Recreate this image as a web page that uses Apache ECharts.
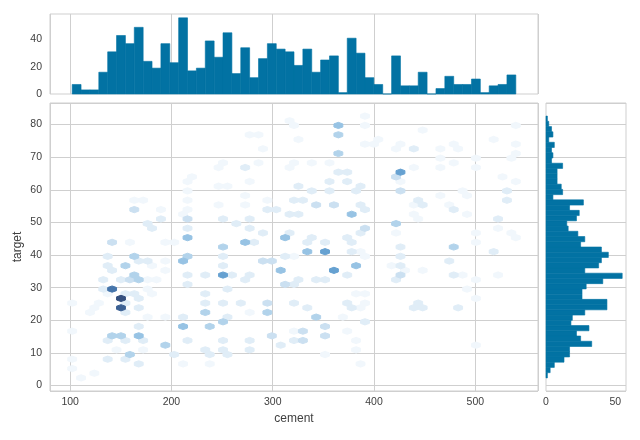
<!DOCTYPE html>
<html>
<head>
<meta charset="utf-8">
<script src="https://cdn.jsdelivr.net/npm/echarts@6/dist/echarts.min.js"></script>
<style>
html, body { margin: 0; padding: 0; background: #fff; }
#chart { width: 640px; height: 440px; }
</style>
</head>
<body>
<div id="chart"></div>
<script>
// marginal histogram counts (50 bins each)
var cementCounts = [7, 3, 3, 16, 31, 43, 37, 49, 24, 19, 37, 23, 56, 17, 19, 39, 27, 45, 15, 34,
  12, 26, 37, 33, 31, 21, 33, 16, 25, 28, 1, 41, 30, 12, 7, 0, 28, 6, 6, 16,
  0, 4, 13, 7, 7, 11, 1, 6, 7, 14];
var targetCounts = [1, 3, 6, 13, 17, 17, 33, 25, 22, 31, 18, 19, 28, 44, 44, 26, 26, 29, 41, 55,
  28, 38, 40, 45, 40, 25, 28, 23, 16, 15, 22, 24, 17, 27, 5, 12, 11, 8, 8, 8,
  12, 4, 5, 4, 6, 2, 5, 4, 2, 1];
var cementRange = [102, 540];
var targetRange = [2.33, 82.6];
var gridSize = 50;

// hexbin cells: [cement, target, count]
var hexCells = [
  [315.7,81.2,1],[277,77.2,1],[285,77.2,1],[290,72.9,1],[323.4,75.7,1],[250.4,68.6,1],[245.6,67.1,1],
  [272.3,67.1,2],[285,68.6,1],[316.4,67.1,1],[321.4,68.3,1],[219.5,64.3,1],[214.6,62.8,1],[276.2,62.8,1],
  [245.6,61.5,1],[254.3,61.5,1],[323.4,61.5,2],[214.6,60,1],[161.5,57.2,1],[171.4,57.2,1],[214.6,57.2,1],
  [272,58.5,1],[293.9,57.2,1],[319.8,57.2,2],[162.6,54.3,3],[188,54.3,1],[214.6,54.3,1],[250.4,55.7,1],
  [272.3,55.7,1],[293.9,54.3,2],[302.8,54.3,2],[314.8,52.9,2],[323.7,52.9,2],[189.3,51.4,2],[214.9,51.4,3],
  [211,52.9,1],[176.5,50,2],[180.5,48.6,2],[214.9,48.6,2],[250.4,51.4,2],[264.3,50,2],[276.2,51.4,2],
  [277,48.6,2],[290,47.1,2],[140.8,44,3],[158.6,44,1],[193,44,1],[201,44,1],[214.9,45.5,5],[250.4,42.8,4],
  [272.3,44,5],[281,44,2],[311.6,45.5,5],[316,47,2],
  [390.1,83,1],[364.2,80.1,5],[364.2,77.2,4],[364.2,71.5,4],[390.2,80.1,1],[390.2,74.4,1],[395.5,74.4,1],
  [403.7,75.8,1],[319.7,80.1,1],[324.4,75.8,1],[425,74.4,1],[421,72.8,1],[438.2,72.8,2],[447,78.7,1],
  [477.8,74.4,1],[482.7,72.8,1],[469.5,72.8,1],[464.6,70,1],[518.3,75.8,1],[538.9,80.1,1],[538.9,74.4,1],
  [538.9,71.5,1],[533.7,70,1],[499,70,1],[477.8,68.6,1],[464.6,67.2,1],[438.2,67.2,1],[499,67.2,1],
  [425.1,65.5,7],[421.2,64.3,3],[425.1,62.8,1],[425.1,60,3],[337.9,68.6,1],[356,68.6,1],[318.2,68.6,1],
  [364.2,65.7,2],[373.1,65.7,2],[373.1,62.9,2],[354.3,62.9,2],[324.6,61.4,2],[356,60,2],[337.9,60,2],
  [382.3,60,2],[387.3,61.4,2],[319.7,57.1,2],[329,57.1,2],[342.1,55.7,3],[359.2,55.7,3],[385.6,55.7,2],
  [394.8,54.2,2],[376.5,52.8,5],[390.5,48.5,3],[385.6,47.1,2],[372.5,45.6,2],[337.9,45.6,2],[441.6,57.1,2],
  [446.5,55.7,2],[438.2,55.7,1],[477.8,54.2,2],[441.6,52.8,1],[421.2,49.9,4],[421.2,47.1,1],[477.8,42.8,4],
  [499,46.9,1],[499,44,1],[521.1,51.4,2],[531,60,2],[531,57.1,2],
  [488.5,60,1],[491.8,58.6,1],[525.5,64.3,1],[540.4,62.9,1],[535.4,70,1],[538.6,45.4,1],[533.7,47.1,1],
  [523.3,48.5,1],[494.2,52.8,1],[472.9,55.7,1],[466.2,58.4,1],[443.1,51.4,1],[324.6,52.8,2],
  [136.1,39.7,2],[162.5,39.7,4],[166.8,38.5,2],[175.6,38.5,2],[210.6,38.5,5],[215.1,39.7,4],[153.9,37,4],
  [136.1,37,2],[140.5,35.6,2],[250,39.7,2],[250,37,2],[250,34.2,7],[258.9,34.2,2],[214.5,34.2,2],
  [232.6,34.2,2],[290.1,38.2,3],[298.4,38.2,3],[306.6,35.4,5],[311.6,39.7,2],[132.2,32.5,2],[150,32.5,2],
  [158.6,32.5,3],[162.5,33.9,4],[166.8,32.5,4],[131.6,29.6,2],[140.8,29.6,9],[149.7,26.8,11],[149.7,23.9,10],
  [158.6,28.2,2],[166.8,28.2,2],[166.8,26.8,2],[166.8,23.9,2],[232.6,22.5,4],[255,29.6,2],[255,21,2],
  [250,19.6,4],[210.6,18.2,5],[236.8,18.2,4],[166.8,18.2,2],[140.8,15.3,4],[149.7,15.3,4],[166.8,15.3,5],
  [193.1,12.4,4],[158.5,9.5,4],[202,9.5,2],[153.9,8.1,2],[136.1,8.1,2],[166.8,6.7,2],[101,8.1,1],
  [101,5.2,1],[110.2,2.4,1],[122.3,3.8,1],[272,25.3,2],[293.5,25.3,3],[293.5,22.5,4],[298.4,15.3,3],
  [311.6,31.3,3],
  [193.1,38.2,1],[193.1,35.6,1],[184.9,37,1],[272,32.6,2],[281,34.2,2],[315.8,39.7,1],[324.7,39.7,1],
  [176,32.5,1],[184.9,32.5,1],[158.6,25.3,2],[158.6,22.5,2],[175.6,29.8,1],[180,28.2,1],[215.1,31.3,2],
  [232.6,28.2,2],[232.6,25.5,2],[250,25.3,2],[210.6,21,2],[193.1,21,1],[175.6,21,1],[136.1,13.8,2],
  [158.6,13.8,2],[175.6,13.8,2],[145.4,11.2,1],[171.7,11.2,1],[215.5,13.8,2],[232.6,11,2],[250,13.8,2],
  [250,10.8,2],[236.8,9.5,2],[254.6,9.5,2],[236.8,6.7,1],[210.6,6.7,1],[101,25.5,1],[101,16.9,1],
  [119,22.7,1],[124,24.1,1],[136.1,28.2,1],[132.2,25.5,1],[277,22.5,1],[306.6,12.4,2],[277,10.8,2],
  [281,13.8,2],[324.7,13.8,2],[324.7,16.9,1],
  [333.5,41.1,5],[351,41.1,7],[376.7,41.1,2],[381.3,36.8,5],[359.2,35.4,7],[425,42.8,2],[425,39.7,2],
  [425,36.8,2],[425,33.9,3],[421,32.5,2],[472.9,38.2,2],[477.8,33.9,2],[487,33.9,1],[517.2,41.1,2],
  [441.2,25.3,2],[437.8,23.9,2],[446.5,23.9,2],[482.2,23.9,2],[499.1,12.4,1],[342.1,21,4],[351,18.2,3],
  [351,15.3,3],[329,16.7,3],[329,13.8,3],[390.5,19.6,2],[385.5,6.7,1],[351,9.5,1],[376.7,33.9,2],
  [319.7,31.1,2],[329,32.5,2],[342.1,32.5,2],[351,32.5,2],[319.7,25.3,2],[333.5,23.9,2],[372.6,25.3,2],
  [376.7,23.9,2],[385.6,23.9,1],[390.5,28.2,1],[381.6,28.2,1],[372.6,16.7,1],[381.6,13.8,1],[381.6,11,1],
  [390.5,39.7,1],[421,36.8,1],[430,35.4,1],[446.5,35.4,1],[385.6,41.1,1],[521.2,33.9,1],[499,32.5,1],
  [491.8,29.6,1],[499,26.8,1],[395.4,25.3,1],[372.6,21,1],[333,44.2,2],[351,44.2,2],[376.7,44.2,2]
];

var barColor = '#0272a3';
var gridColor = '#cfcfcf';
var textColor = '#404040';
var fontFam = 'Liberation Sans, Arial, sans-serif';

var cementStep = (cementRange[1] - cementRange[0]) / cementCounts.length;
var targetStep = (targetRange[1] - targetRange[0]) / targetCounts.length;
var cementBars = cementCounts.map(function (n, i) {
  return [cementRange[0] + i * cementStep, cementRange[0] + (i + 1) * cementStep, n];
});
var targetBars = targetCounts.map(function (n, i) {
  return [targetRange[0] + i * targetStep, targetRange[0] + (i + 1) * targetStep, n];
});

// hexbin lattice like matplotlib
var SX = (cementRange[1] - cementRange[0]) / gridSize;
var NY = Math.floor(gridSize / Math.sqrt(3));
var SY = (targetRange[1] - targetRange[0]) / NY;
function snap(c, t) {
  var x = (c - cementRange[0]) / SX, y = (t - targetRange[0]) / SY;
  var ix1 = Math.round(x), iy1 = Math.round(y);
  var ix2 = Math.floor(x), iy2 = Math.floor(y);
  var d1 = (x - ix1) * (x - ix1) + 3 * (y - iy1) * (y - iy1);
  var d2 = (x - ix2 - 0.5) * (x - ix2 - 0.5) + 3 * (y - iy2 - 0.5) * (y - iy2 - 0.5);
  if (d1 <= d2) return [cementRange[0] + ix1 * SX, targetRange[0] + iy1 * SY];
  return [cementRange[0] + (ix2 + 0.5) * SX, targetRange[0] + (iy2 + 0.5) * SY];
}
var cellMap = {};
hexCells.forEach(function (h) {
  var p = snap(h[0], h[1]);
  var key = p[0].toFixed(3) + '_' + p[1].toFixed(3);
  if (!cellMap[key] || cellMap[key][2] < h[2]) cellMap[key] = [p[0], p[1], h[2]];
});
var hexData = Object.keys(cellMap).map(function (k) { return cellMap[k]; });
hexData.sort(function (a, b) { return a[2] - b[2]; });

var pad = function (r, f) { var d = (r[1] - r[0]) * f; return [r[0] - d, r[1] + d]; };
var xLim = pad(cementRange, 0.05);
var yLim = pad(targetRange, 0.05);
var topMax = Math.max.apply(null, cementCounts) * 1.05;
var rightMax = Math.max.apply(null, targetCounts) * 1.05;

function hexItem(params, api) {
  var c = api.value(0), t = api.value(1);
  var offs = [[0.5, -0.5], [0.5, 0.5], [0, 1], [-0.5, 0.5], [-0.5, -0.5], [0, -1]];
  var pts = offs.map(function (o) { return api.coord([c + o[0] * SX, t + o[1] * SY / 3]); });
  var col = api.visual('color');
  return { type: 'polygon', shape: { points: pts }, style: { fill: col, stroke: col, lineWidth: 1 } };
}
function topBar(params, api) {
  var a = api.coord([api.value(0), 0]), b = api.coord([api.value(1), api.value(2)]);
  return { type: 'rect', shape: { x: a[0], y: b[1], width: b[0] - a[0], height: a[1] - b[1] },
    style: { fill: barColor, stroke: barColor, lineWidth: 0.6 } };
}
function rightBar(params, api) {
  var a = api.coord([0, api.value(0)]), b = api.coord([api.value(2), api.value(1)]);
  return { type: 'rect', shape: { x: a[0], y: b[1], width: b[0] - a[0], height: a[1] - b[1] },
    style: { fill: barColor, stroke: barColor, lineWidth: 0.6 } };
}

var labelStyle = { color: textColor, fontFamily: fontFam, fontSize: 10.5 };
var chart = echarts.init(document.getElementById('chart'), null, { renderer: 'canvas' });
chart.setOption({
  animation: false,
  backgroundColor: '#ffffff',
  grid: [
    { left: 50, top: 103, width: 488, height: 288, show: true, borderColor: gridColor, borderWidth: 1 },
    { left: 50, top: 14, width: 488, height: 80, show: true, borderColor: gridColor, borderWidth: 1 },
    { left: 546, top: 103, width: 80, height: 288, show: true, borderColor: gridColor, borderWidth: 1 }
  ],
  visualMap: {
    show: false, seriesIndex: 0, dimension: 2, min: 1, max: 11,
    inRange: { color: ['#f1f7fc', '#d9e8f5', '#b6d5ec', '#8fbfe2', '#6ca7d6', '#5088bf', '#3f689d', '#35507f'] }
  },
  xAxis: [
    {
      gridIndex: 0, type: 'value', min: xLim[0], max: xLim[1], minInterval: 100, maxInterval: 100,
      name: 'cement', nameLocation: 'middle', nameGap: 22, nameMoveOverlap: false,
      nameTextStyle: { color: textColor, fontFamily: fontFam, fontSize: 12 },
      axisLine: { show: false }, axisTick: { show: false },
      axisLabel: Object.assign({ margin: 6, showMinLabel: false, showMaxLabel: false }, labelStyle),
      splitLine: { lineStyle: { color: gridColor, width: 1 } }
    },
    {
      gridIndex: 1, type: 'value', min: xLim[0], max: xLim[1], minInterval: 100, maxInterval: 100,
      axisLine: { show: false }, axisTick: { show: false }, axisLabel: { show: false },
      splitLine: { lineStyle: { color: gridColor, width: 1 } }
    },
    {
      gridIndex: 2, type: 'value', min: 0, max: rightMax, minInterval: 50, maxInterval: 50,
      axisLine: { show: false }, axisTick: { show: false },
      axisLabel: Object.assign({ margin: 6, showMaxLabel: false }, labelStyle),
      splitLine: { show: false }
    }
  ],
  yAxis: [
    {
      gridIndex: 0, type: 'value', min: yLim[0], max: yLim[1], minInterval: 10, maxInterval: 10,
      name: 'target', nameLocation: 'middle', nameGap: 26, nameRotate: 90, nameMoveOverlap: false,
      nameTextStyle: { color: textColor, fontFamily: fontFam, fontSize: 12 },
      axisLine: { show: false }, axisTick: { show: false },
      axisLabel: Object.assign({ margin: 8, showMinLabel: false, showMaxLabel: false }, labelStyle),
      splitLine: { lineStyle: { color: gridColor, width: 1 } }
    },
    {
      gridIndex: 1, type: 'value', min: 0, max: topMax, minInterval: 20, maxInterval: 20,
      axisLine: { show: false }, axisTick: { show: false },
      axisLabel: Object.assign({ margin: 8, showMaxLabel: false }, labelStyle),
      splitLine: { show: false }
    },
    {
      gridIndex: 2, type: 'value', min: yLim[0], max: yLim[1], minInterval: 10, maxInterval: 10,
      axisLine: { show: false }, axisTick: { show: false }, axisLabel: { show: false },
      splitLine: { lineStyle: { color: gridColor, width: 1 } }
    }
  ],
  series: [
    { type: 'custom', xAxisIndex: 0, yAxisIndex: 0, renderItem: hexItem, data: hexData, clip: true },
    { type: 'custom', xAxisIndex: 1, yAxisIndex: 1, renderItem: topBar, data: cementBars },
    { type: 'custom', xAxisIndex: 2, yAxisIndex: 2, renderItem: rightBar, data: targetBars }
  ]
});
</script>
</body>
</html>
